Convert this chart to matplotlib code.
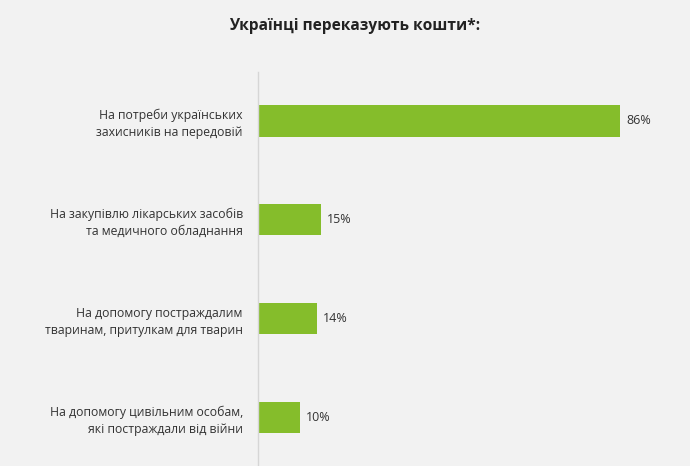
import matplotlib
matplotlib.use("Agg")
import matplotlib.pyplot as plt

plt.rcParams['font.family'] = ['Open Sans', 'DejaVu Sans']

# data
categories = [
    "На потреби українських\nзахисників на передовій",
    "На закупівлю лікарських засобів\nта медичного обладнання",
    "На допомогу постраждалим\nтваринам, притулкам для тварин",
    "На допомогу цивільним особам,\nякі постраждали від війни",
]
values = [86, 15, 14, 10]
title = "Українці переказують кошти*:"

bg = "#f2f2f2"
green = "#85bd2b"

fig = plt.figure(figsize=(6.9, 4.66), dpi=100, facecolor=bg)
ax = fig.add_axes([0.374, 0.0, 0.61, 0.845])
ax.set_facecolor(bg)

y = list(range(len(categories)))
ax.barh(y, values, height=0.32, color=green)
ax.set_xlim(0, 100)
ax.set_ylim(3.49, -0.49)

for i, v in zip(y, values):
    ax.text(v + 1.4, i, f"{v}%", va="center", ha="left", fontsize=9, color="#333333")

ax.set_yticks(y)
ax.set_yticklabels(categories, fontsize=8.8, color="#333333", ha="right", linespacing=1.35)
ax.tick_params(axis="y", length=0, pad=11)
ax.set_xticks([])
for s in ["top", "right", "bottom"]:
    ax.spines[s].set_visible(False)
ax.spines["left"].set_color("#d6d6d6")
ax.spines["left"].set_linewidth(1)

fig.text(0.514, 0.945, title, ha="center", va="center", fontsize=11.2,
         fontweight="bold", color="#222222")

fig.savefig("out.png", dpi=100, facecolor=bg)
